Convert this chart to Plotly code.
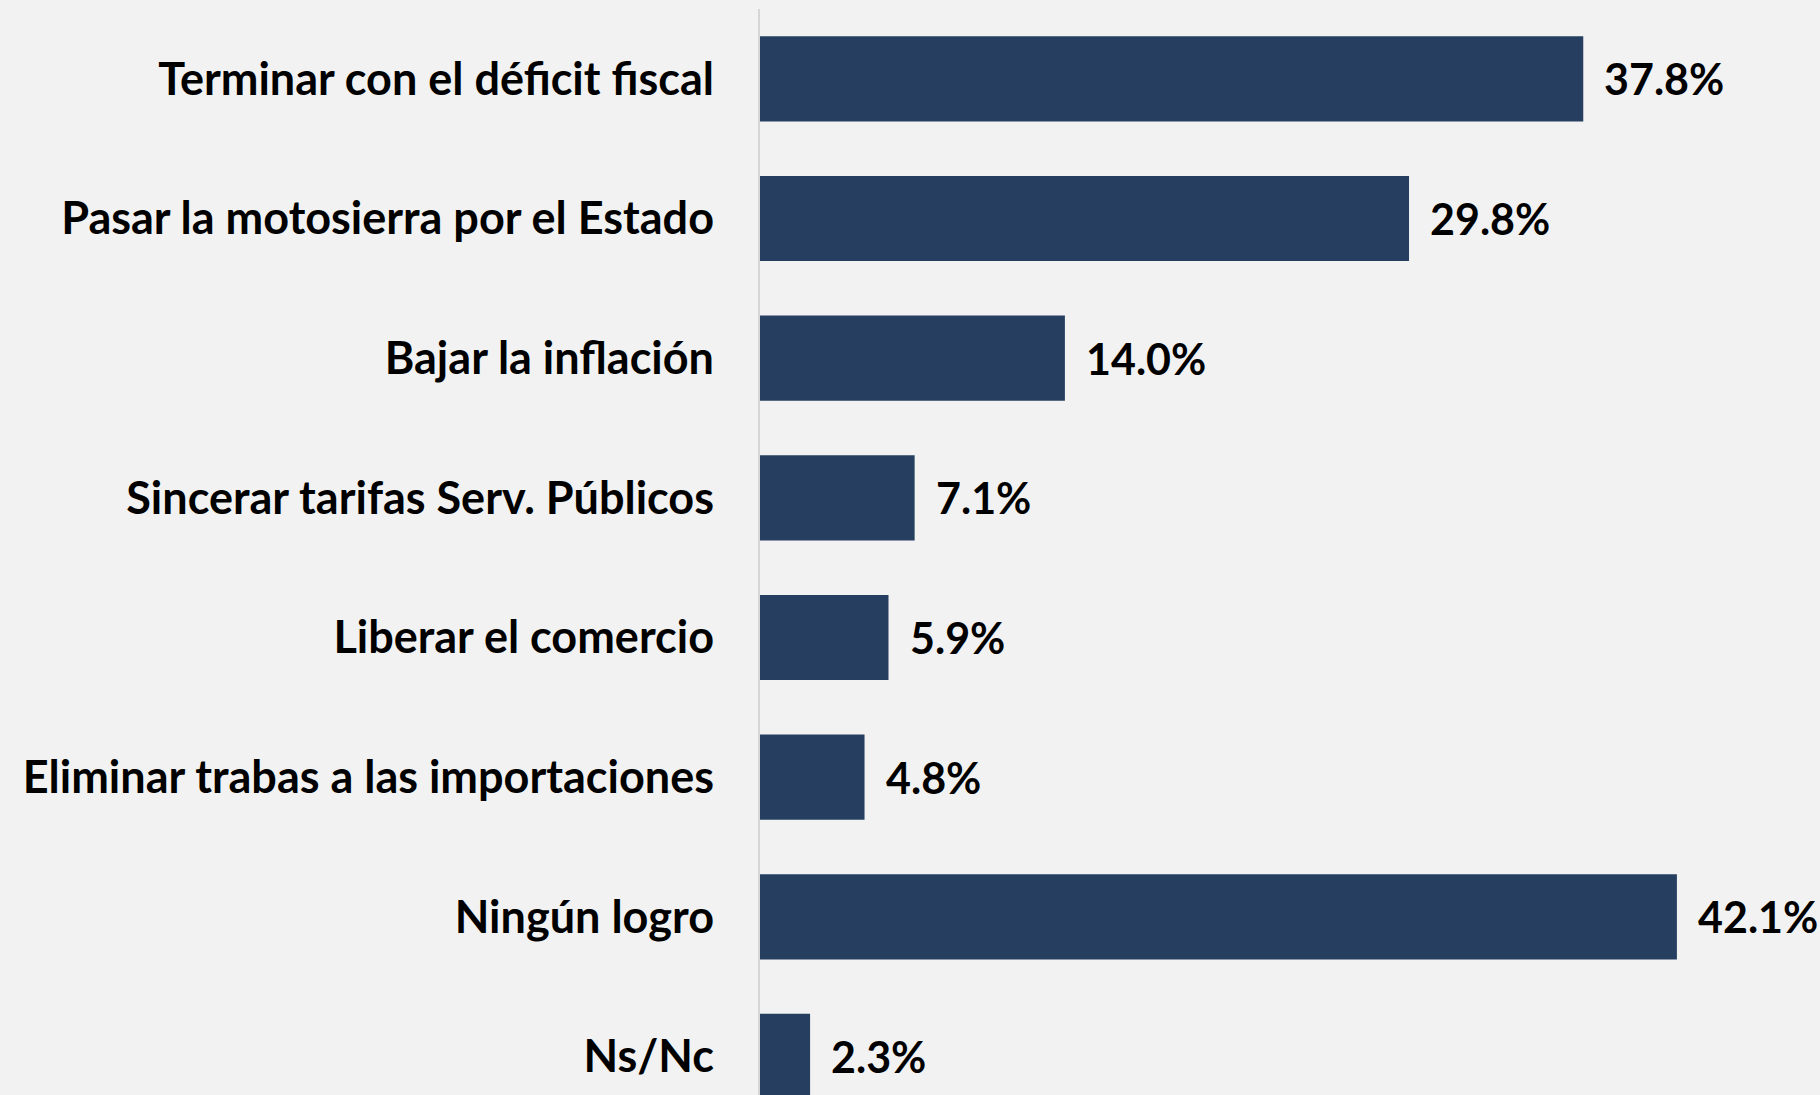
import plotly.graph_objects as go

categories = [
    "Terminar con el déficit fiscal",
    "Pasar la motosierra por el Estado",
    "Bajar la inflación",
    "Sincerar tarifas Serv. Públicos",
    "Liberar el comercio",
    "Eliminar trabas a las importaciones",
    "Ningún logro",
    "Ns/Nc",
]
values = [37.8, 29.8, 14.0, 7.1, 5.9, 4.8, 42.1, 2.3]
value_labels = [f"{v:.1f}%" for v in values]

BAR = "#263F60"
BG = "#F2F2F2"
FONT = "Lato"

fig = go.Figure()
fig.add_trace(go.Bar(
    x=values, y=categories, orientation="h",
    marker=dict(color=BAR, line=dict(width=0)),
    width=0.61, hoverinfo="skip",
))

for c, v, t in zip(categories, values, value_labels):
    fig.add_annotation(x=v, y=c, text=t, xanchor="left", yanchor="middle",
                       xshift=19, showarrow=False,
                       font=dict(family=FONT, size=43, color="black", weight="bold"))

fig.update_layout(
    width=1820, height=1095,
    margin=dict(l=760, r=0, t=9, b=0),
    paper_bgcolor=BG, plot_bgcolor=BG,
    showlegend=False,
    font=dict(family=FONT, color="black"),
    xaxis=dict(range=[0, 48.67], visible=False, showgrid=False, zeroline=False),
    yaxis=dict(
        type="category",
        range=[7.276, -0.5],
        showline=True, linecolor="#D6D6D6", linewidth=2,
        showgrid=False, zeroline=False,
        ticks="", ticklabelstandoff=35,
        tickfont=dict(family=FONT, size=45, color="black", weight="bold"),
    ),
)

fig.write_html(
    "out.html",
    config={"displayModeBar": False},
    post_script="document.body.style.margin='0';document.body.style.background='#F2F2F2';",
)
